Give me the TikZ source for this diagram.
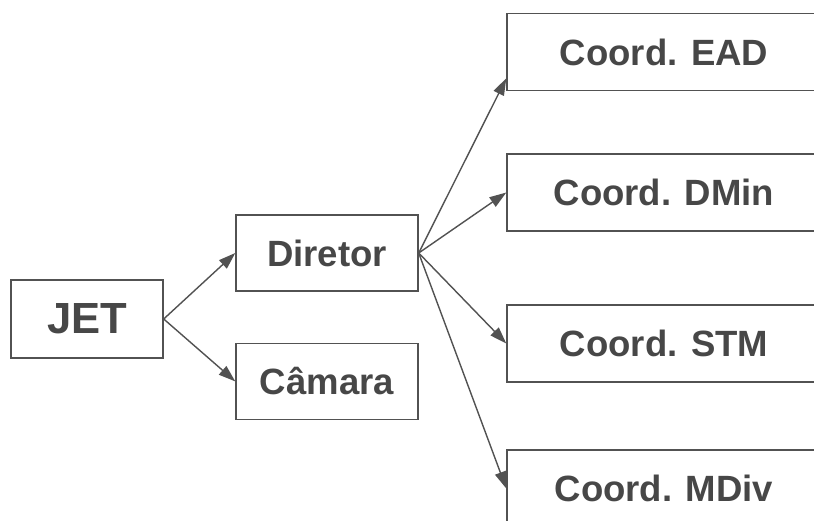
\documentclass[tikz,border=0pt]{standalone}
\usepackage{fontspec}
\setmainfont{Liberation Sans}
\usepackage{xcolor}
\usepackage{tikz}
\usetikzlibrary{arrows.meta,positioning}
\definecolor{inkgray}{HTML}{474747}
\definecolor{linegray}{HTML}{525252}

\begin{document}
\begin{tikzpicture}[>={Triangle[length=12pt,width=8pt]},
    box/.style={draw=linegray,line width=1pt,text=inkgray,font=\bfseries,inner sep=0pt},
    smallbox/.style={box,minimum width=4.55cm,minimum height=1.9cm,font=\fontsize{26}{30}\selectfont\bfseries},
    coordbox/.style={box,minimum width=7.85cm,minimum height=1.93cm,font=\fontsize{26}{30}\selectfont\bfseries},
    link/.style={->,draw=linegray,line width=1pt}]
  \useasboundingbox (0,0) rectangle (20.35,-13.025);
  \node[box,minimum width=3.8cm,minimum height=1.95cm,font=\fontsize{31}{36}\selectfont\bfseries] (jet) at (2.175,-7.975) {JET};
  \node[smallbox] (diretor) at (8.175,-6.325) {Diretor};
  \node[smallbox,below=1.275cm of diretor] (camara) {Câmara};
  \node[coordbox] (ead) at (16.6,-1.3) {Coord. EAD};
  \node[coordbox] (dmin) at (16.6,-4.8125) {Coord. DMin};
  \node[coordbox] (stm) at (16.6,-8.5875) {Coord. STM};
  \node[coordbox] (mdiv) at (16.6,-12.2125) {Coord. MDiv};
  \draw[link] (jet.east) -- (diretor.west);
  \draw[link] (jet.east) -- (camara.west);
  \draw[link] (diretor.east) -- ([yshift=0.325cm]ead.south west);
  \draw[link] (diretor.east) -- (dmin.west);
  \draw[link] (diretor.east) -- (stm.west);
  \draw[link] (diretor.east) -- (mdiv.west);
\end{tikzpicture}
\end{document}
